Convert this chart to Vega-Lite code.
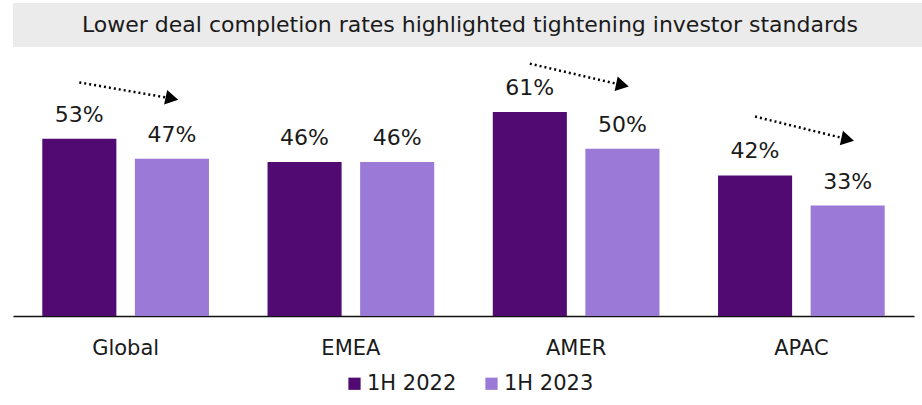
{
  "$schema": "https://vega.github.io/schema/vega-lite/v6.json",
  "padding": {"left": 6, "top": 3, "right": 0, "bottom": 0},
  "background": "white",
  "spacing": 8,
  "datasets": {
    "bars": [
      {"region": "Global", "period": "1H 2022", "rate": 0.53},
      {"region": "Global", "period": "1H 2023", "rate": 0.47},
      {"region": "EMEA", "period": "1H 2022", "rate": 0.46},
      {"region": "EMEA", "period": "1H 2023", "rate": 0.46},
      {"region": "AMER", "period": "1H 2022", "rate": 0.61},
      {"region": "AMER", "period": "1H 2023", "rate": 0.50},
      {"region": "APAC", "period": "1H 2022", "rate": 0.42},
      {"region": "APAC", "period": "1H 2023", "rate": 0.33}
    ],
    "arrows": [
      {"region": "Global", "period": "1H 2022", "y": 0.698},
      {"region": "Global", "period": "1H 2023", "y": 0.650},
      {"region": "AMER", "period": "1H 2022", "y": 0.754},
      {"region": "AMER", "period": "1H 2023", "y": 0.690},
      {"region": "APAC", "period": "1H 2022", "y": 0.596},
      {"region": "APAC", "period": "1H 2023", "y": 0.528}
    ]
  },
  "vconcat": [
    {
      "width": 914,
      "height": 44,
      "data": {"values": [{"title": "Lower deal completion rates highlighted tightening investor standards"}]},
      "mark": {"type": "text", "fontSize": 22, "font": "DejaVu Sans", "color": "#1a1a1a", "baseline": "middle", "align": "center"},
      "encoding": {"text": {"field": "title"}},
      "view": {"fill": "#ebebeb", "stroke": null}
    },
    {
      "width": 901,
      "height": 261,
      "encoding": {
        "x": {
          "field": "region", "type": "nominal",
          "sort": ["Global", "EMEA", "AMER", "APAC"],
          "scale": {"paddingInner": 0.26, "paddingOuter": 0.13},
          "axis": {"title": null, "ticks": false, "labelFontSize": 21, "labelPadding": 21, "labelColor": "#1a1a1a", "domainColor": "#111111", "domainWidth": 1.5, "labelAngle": 0, "labelFont": "DejaVu Sans"}
        },
        "xOffset": {"field": "period", "type": "nominal", "scale": {"paddingInner": 0.2}}
      },
      "layer": [
        {
          "data": {"name": "bars"},
          "mark": {"type": "bar"},
          "encoding": {
            "y": {
              "field": "rate", "type": "quantitative",
              "scale": {"domain": [0, 0.78], "nice": false},
              "axis": {"title": null, "labels": false, "ticks": false, "domain": false, "grid": false, "minExtent": 7, "maxExtent": 7}
            },
            "color": {
              "field": "period", "type": "nominal",
              "scale": {"domain": ["1H 2022", "1H 2023"], "range": ["#520A73", "#9A7AD6"]},
              "legend": {"title": null, "orient": "none", "legendX": 331, "legendY": 370, "direction": "horizontal", "symbolType": "square", "symbolSize": 150, "labelFontSize": 21, "labelColor": "#1a1a1a", "columnPadding": 24, "labelFont": "DejaVu Sans", "symbolStrokeWidth": 0, "labelOffset": 2}
            }
          }
        },
        {
          "data": {"name": "bars"},
          "mark": {"type": "text", "baseline": "alphabetic", "dy": -17, "fontSize": 22, "color": "#1a1a1a", "font": "DejaVu Sans"},
          "encoding": {
            "y": {"field": "rate", "type": "quantitative"},
            "text": {"field": "rate", "type": "quantitative", "format": ".0%"}
          }
        },
        {
          "data": {"name": "arrows"},
          "mark": {"type": "line", "color": "#000000", "strokeWidth": 2.5, "strokeDash": [2, 3]},
          "encoding": {
            "y": {"field": "y", "type": "quantitative"},
            "detail": {"field": "region"}
          }
        },
        {
          "data": {"name": "arrows"},
          "transform": [{"filter": "datum.period === '1H 2023'"}],
          "mark": {"type": "point", "shape": "triangle-right", "filled": true, "color": "#000000", "size": 220, "angle": 12, "opacity": 1},
          "encoding": {
            "y": {"field": "y", "type": "quantitative"}
          }
        }
      ]
    }
  ],
  "config": {
    "view": {"stroke": null},
    "font": "DejaVu Sans"
  }
}
